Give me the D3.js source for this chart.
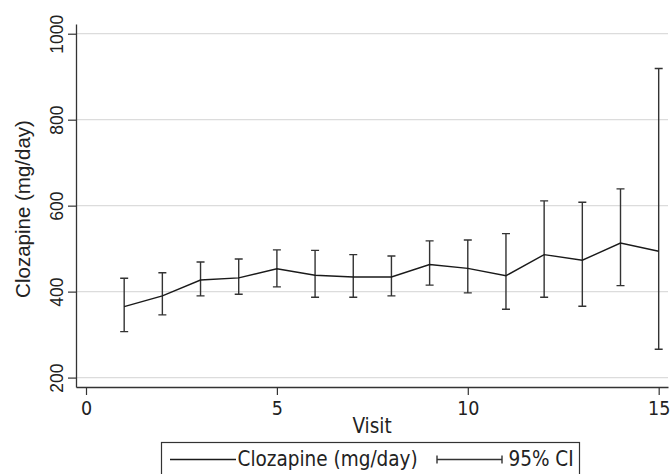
<!DOCTYPE html>
<html>
<head>
<meta charset="utf-8">
<script src="https://cdn.jsdelivr.net/npm/d3@7/dist/d3.min.js"></script>
<style>
  body { margin: 0; background: #fff; }
  .cond { font-family: "DejaVu Sans Condensed", "DejaVu Sans", sans-serif; font-stretch: condensed; }
</style>
</head>
<body>
<script>
// values
var visits = [1, 2, 3, 4, 5, 6, 7, 8, 9, 10, 11, 12, 13, 14, 15];
var meanDose = [365, 390, 427, 432, 453, 438, 434, 434, 463, 454, 437, 486, 473, 513, 494];
var upperCI = [431, 444, 469, 476, 497, 496, 486, 483, 518, 520, 535, 611, 608, 639, 919];
var lowerCI = [307, 346, 390, 394, 411, 387, 387, 390, 415, 397, 359, 387, 366, 414, 266];
var xTicks = [0, 5, 10, 15];
var yTicks = [200, 400, 600, 800, 1000];

var w = 672, h = 474;
var plotLeft = 76, plotRight = 668, plotTop = 24, plotBottom = 387;

var svg = d3.select("body").append("svg")
  .attr("width", w)
  .attr("height", h);

var x = d3.scaleLinear().domain([-0.262, 15.244]).range([plotLeft, plotRight]);
var y = d3.scaleLinear().domain([178.1, 1022.6]).range([plotBottom, plotTop]);

var data = visits.map(function(v, i) {
  return { visit: v, mean: meanDose[i], lo: lowerCI[i], hi: upperCI[i] };
});

// grid
svg.append("g").selectAll("line")
  .data(yTicks)
  .enter().append("line")
  .attr("x1", plotLeft).attr("x2", plotRight)
  .attr("y1", function(d) { return y(d); })
  .attr("y2", function(d) { return y(d); })
  .attr("stroke", "#dcdcdc")
  .attr("stroke-width", 1.2);

// y axis
var yAxis = svg.append("g")
  .attr("transform", "translate(" + plotLeft + ",0)")
  .call(d3.axisLeft(y).tickValues(yTicks).tickSize(8).tickSizeOuter(0).tickFormat(d3.format("d")));
yAxis.select(".domain").attr("stroke", "#333").attr("stroke-width", 1.3);
yAxis.selectAll(".tick line").attr("stroke", "#333").attr("stroke-width", 1.2);
yAxis.selectAll(".tick text")
  .attr("font-family", "Liberation Sans, Arial, sans-serif")
  .attr("font-size", "17.5px")
  .attr("fill", "#222")
  .attr("text-anchor", "middle")
  .attr("x", 0)
  .attr("dy", 0)
  .attr("transform", "translate(-13,0) rotate(-90)");

// x axis
var xAxis = svg.append("g")
  .attr("transform", "translate(0," + plotBottom + ")")
  .call(d3.axisBottom(x).tickValues(xTicks).tickSize(8).tickSizeOuter(0));
xAxis.select(".domain").attr("stroke", "#333").attr("stroke-width", 1.3);
xAxis.selectAll(".tick line").attr("stroke", "#333").attr("stroke-width", 1.2);
xAxis.selectAll(".tick text")
  .attr("class", "cond")
  .attr("font-size", "19.5px")
  .attr("fill", "#222")
  .attr("y", 0)
  .attr("dy", 0)
  .attr("transform", "translate(0,27.5)");

// axis titles
svg.append("text")
  .attr("class", "cond")
  .attr("x", (plotLeft + plotRight) / 2)
  .attr("y", 433)
  .attr("text-anchor", "middle")
  .attr("font-size", "20.5px")
  .attr("fill", "#222")
  .text("Visit");

svg.append("text")
  .attr("transform", "translate(30,209) rotate(-90)")
  .attr("text-anchor", "middle")
  .attr("font-family", "Liberation Sans, Arial, sans-serif")
  .attr("font-size", "20.5px")
  .attr("fill", "#222")
  .text("Clozapine (mg/day)");

// error bars
var bars = svg.append("g").attr("stroke", "#333").attr("stroke-width", 1.4);
bars.selectAll(".ci")
  .data(data)
  .enter().append("path")
  .attr("fill", "none")
  .attr("d", function(d) {
    var cx = x(d.visit);
    return "M" + (cx - 4) + "," + y(d.hi) + "H" + (cx + 4) +
      "M" + cx + "," + y(d.hi) + "V" + y(d.lo) +
      "M" + (cx - 4) + "," + y(d.lo) + "H" + (cx + 4);
  });

// mean line
var line = d3.line()
  .x(function(d) { return x(d.visit); })
  .y(function(d) { return y(d.mean); });

svg.append("path")
  .datum(data)
  .attr("fill", "none")
  .attr("stroke", "#1a1a1a")
  .attr("stroke-width", 1.4)
  .attr("d", line);

// legend
var lg = svg.append("g");
lg.append("rect")
  .attr("x", 161.5).attr("y", 442.5)
  .attr("width", 418).attr("height", 40)
  .attr("fill", "#fff")
  .attr("stroke", "#333")
  .attr("stroke-width", 1.2);
lg.append("line")
  .attr("x1", 170).attr("x2", 236)
  .attr("y1", 459.5).attr("y2", 459.5)
  .attr("stroke", "#1a1a1a").attr("stroke-width", 1.4);
lg.append("text")
  .attr("class", "cond")
  .attr("x", 237.5).attr("y", 466)
  .attr("font-size", "20.5px")
  .attr("fill", "#222")
  .text("Clozapine (mg/day)");
lg.append("path")
  .attr("d", "M437,455.5V463.5M437,459.5H502M502,455.5V463.5")
  .attr("fill", "none")
  .attr("stroke", "#333").attr("stroke-width", 1.4);
lg.append("text")
  .attr("class", "cond")
  .attr("x", 508.5).attr("y", 466)
  .attr("font-size", "20.5px")
  .attr("fill", "#222")
  .text("95% CI");
</script>
</body>
</html>
